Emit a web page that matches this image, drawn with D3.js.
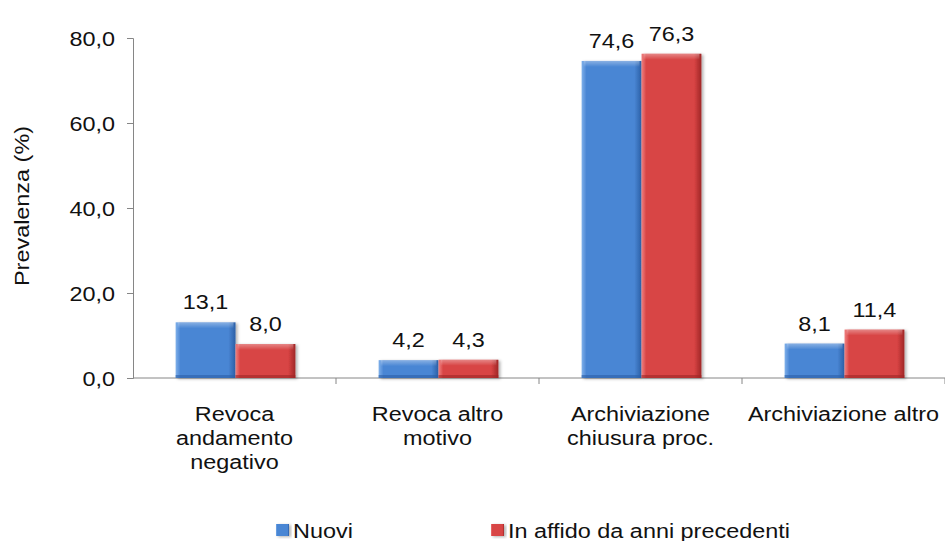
<!DOCTYPE html>
<html>
<head>
<meta charset="utf-8">
<script src="https://cdn.jsdelivr.net/npm/d3@7"></script>
<style>
  body { margin: 0; background: #fff; }
  text { font-family: "Liberation Sans", Arial, sans-serif; fill: #111; }
</style>
</head>
<body>
<svg id="chart" width="945" height="541"></svg>
<script>
// Chart data
const categories = [
    ["Revoca", "andamento", "negativo"],
    ["Revoca altro", "motivo"],
    ["Archiviazione", "chiusura proc."],
    ["Archiviazione altro"]
];
const seriesNames = ["Nuovi", "In affido da anni precedenti"];
const nuovi = [13.1, 4.2, 74.6, 8.1];
const precedenti = [8.0, 4.3, 76.3, 11.4];
const yTicks = [0, 20, 40, 60, 80];

const colors = [
    { main: "#4a86d4", dark: "#2b5fa6", light: "#7fb0ea" },
    { main: "#d84444", dark: "#9f2626", light: "#ef8080" }
];

const FONT = "19.5px";
const SX = 1.2;   // the original text renders wide, stretch glyphs to match

// widen a text/tspan selection horizontally
function stretch(sel) {
    sel.each(function() {
        const len = this.getComputedTextLength();
        d3.select(this)
            .attr("textLength", len * SX)
            .attr("lengthAdjust", "spacingAndGlyphs");
    });
}

const svg = d3.select("#chart");
const margin = { left: 133, right: 0, top: 38, bottom: 163 };
const width = 945 - margin.left - margin.right;
const height = 541 - margin.top - margin.bottom;

const g = svg.append("g")
    .attr("transform", "translate(" + margin.left + "," + margin.top + ")");

const x = d3.scaleBand()
    .domain(d3.range(categories.length))
    .range([0, width]);

const x1 = d3.scaleBand()
    .domain([0, 1])
    .range([x.bandwidth() * 0.21, x.bandwidth() * 0.80]);

const y = d3.scaleLinear().domain([0, 80]).range([height, 0]);

// gradients for the bevelled bar look
const defs = svg.append("defs");
colors.forEach(function(c, i) {
    const h = defs.append("linearGradient").attr("id", "hg" + i)
        .attr("x1", "0").attr("x2", "1").attr("y1", "0").attr("y2", "0");
    h.append("stop").attr("offset", "0").attr("stop-color", c.light);
    h.append("stop").attr("offset", "0.08").attr("stop-color", c.main);
    h.append("stop").attr("offset", "0.88").attr("stop-color", c.main);
    h.append("stop").attr("offset", "1").attr("stop-color", c.dark);

    const v = defs.append("linearGradient").attr("id", "vg" + i)
        .attr("x1", "0").attr("x2", "0").attr("y1", "0").attr("y2", "1");
    v.append("stop").attr("offset", "0").attr("stop-color", "#fff").attr("stop-opacity", 0.35);
    v.append("stop").attr("offset", "1").attr("stop-color", "#fff").attr("stop-opacity", 0);
});
const shadow = defs.append("filter").attr("id", "shadow")
    .attr("x", "-10%").attr("y", "-10%").attr("width", "130%").attr("height", "130%");
shadow.append("feDropShadow").attr("dx", 2).attr("dy", 1).attr("stdDeviation", 1.5)
    .attr("flood-color", "#000").attr("flood-opacity", 0.3);

// y axis
const yAxis = g.append("g")
    .call(d3.axisLeft(y).tickValues(yTicks).tickSize(6)
        .tickFormat(function(d) { return d3.format(".1f")(d).replace(".", ","); }));
yAxis.selectAll("path, line").attr("stroke", "#868686");
yAxis.selectAll("text")
    .attr("x", -18)
    .attr("dy", "0.36em")
    .style("font-size", FONT)
    .call(stretch);

// x axis
const xAxisG = g.append("g").attr("transform", "translate(0," + height + ")");
xAxisG.append("line").attr("x1", 0).attr("x2", width).attr("stroke", "#868686");
xAxisG.selectAll(".xt").data(d3.range(1, categories.length + 1)).enter()
    .append("line")
    .attr("x1", function(d) { return x.step() * d; })
    .attr("x2", function(d) { return x.step() * d; })
    .attr("y1", 0).attr("y2", 6)
    .attr("stroke", "#868686");

const series = [nuovi, precedenti];
const groups = g.selectAll(".grp").data(categories).enter()
    .append("g")
    .attr("transform", function(d, i) { return "translate(" + x(i) + ",0)"; });

groups.each(function(cat, ci) {
    const gg = d3.select(this);
    series.forEach(function(vals, si) {
        const v = vals[ci];
        const bx = x1(si), bw = x1.bandwidth();
        const by = y(v), bh = height - y(v);
        gg.append("rect")
            .attr("x", bx).attr("y", by).attr("width", bw).attr("height", bh)
            .attr("fill", "url(#hg" + si + ")")
            .attr("filter", "url(#shadow)");
        gg.append("rect")
            .attr("x", bx + 2).attr("y", by).attr("width", bw - 4).attr("height", Math.min(6, bh))
            .attr("fill", "url(#vg" + si + ")");
        gg.append("rect")
            .attr("x", bx).attr("y", by + bh - 3).attr("width", bw).attr("height", 3)
            .attr("fill", colors[si].dark).attr("opacity", 0.6);
        gg.append("text")
            .attr("x", bx + bw / 2)
            .attr("y", by - 13)
            .attr("text-anchor", "middle")
            .style("font-size", FONT)
            .text(d3.format(".1f")(v).replace(".", ","))
            .call(stretch);
    });
    const t = gg.append("text")
        .attr("text-anchor", "middle")
        .style("font-size", FONT);
    cat.forEach(function(line, li) {
        t.append("tspan")
            .attr("x", x.bandwidth() / 2)
            .attr("y", height + 43 + li * 24)
            .text(line);
    });
    t.selectAll("tspan").call(stretch);
});

// y label
svg.append("text")
    .attr("transform", "translate(29," + (margin.top + height / 2 - 2) + ") rotate(-90)")
    .attr("text-anchor", "middle")
    .style("font-size", FONT)
    .text("Prevalenza (%)")
    .call(stretch);

// legend
const legendX = [276, 491];
const legend = svg.selectAll(".leg").data(seriesNames).enter()
    .append("g")
    .attr("transform", function(d, i) { return "translate(" + legendX[i] + ",524)"; });
legend.append("rect")
    .attr("width", 13).attr("height", 12)
    .attr("fill", function(d, i) { return "url(#hg" + i + ")"; })
    .attr("filter", "url(#shadow)");
legend.append("text")
    .attr("x", 17).attr("y", 14)
    .style("font-size", FONT)
    .text(function(d) { return d; })
    .call(stretch);
</script>
</body>
</html>
